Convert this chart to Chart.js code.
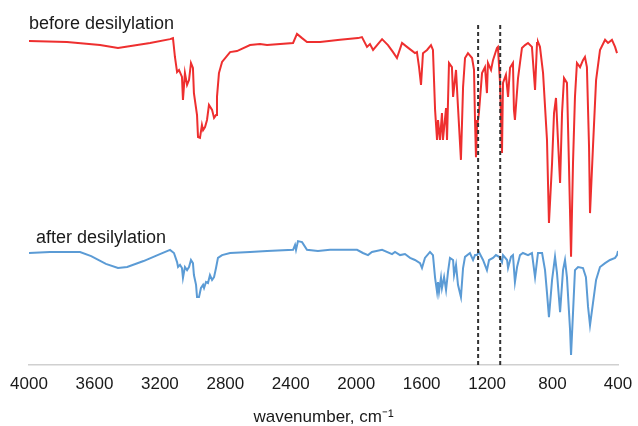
<!DOCTYPE html>
<html>
<head>
<meta charset="utf-8">
<script src="https://cdn.jsdelivr.net/npm/chart.js@4/dist/chart.umd.min.js"></script>
<style>
  html, body { margin: 0; padding: 0; background: #fff; }
  #wrap { width: 638px; height: 426px; }
</style>
</head>
<body>
<div id="wrap"><canvas id="irChart" width="638" height="426"></canvas></div>
<script>
// IR spectra, wavenumber (cm-1) vs. offset transmittance (a.u.)
const seriesLabels = ['before desilylation', 'after desilylation'];
const xTicks = [4000, 3600, 3200, 2800, 2400, 2000, 1600, 1200, 800, 400];
const markerLines = [1255, 1120];

const beforeWn = [4000, 3768, 3566, 3456, 3260, 3138, 3120, 3108, 3095, 3083, 3065, 3059, 3047, 3034, 3022, 3010, 2998, 2992,
    2973, 2967, 2955, 2943, 2936, 2924, 2912, 2900, 2881, 2869, 2857, 2851, 2839, 2820, 2771, 2729, 2649, 2588,
    2545, 2386, 2362, 2331, 2301, 2221, 2099, 1989, 1965, 1934, 1916, 1897, 1842, 1806, 1775, 1751, 1720, 1690,
    1641, 1629, 1616, 1604, 1592, 1567, 1543, 1531, 1518, 1506, 1500, 1488, 1476, 1470, 1451, 1445, 1433, 1415,
    1408, 1390, 1378, 1360, 1347, 1335, 1317, 1292, 1280, 1274, 1268, 1262, 1250, 1231, 1213, 1201, 1195, 1176,
    1164, 1140, 1134, 1121, 1109, 1103, 1085, 1072, 1060, 1042, 1036, 1030, 1011, 999, 987, 968, 950, 926, 907,
    895, 889, 877, 858, 834, 822, 803, 791, 779, 767, 754, 742, 730, 712, 700, 687, 675, 663, 651, 632, 614, 602,
    590, 577, 571, 553, 534, 510, 479, 461, 437, 418, 406];
const beforeT = [92.6, 92.3, 91.4, 90.6, 92.0, 93.1, 93.4, 88.0, 83.7, 84.3, 82.3, 75.7, 83.4, 80.0, 81.4, 86.3, 84.9, 77.7,
    71.4, 65.1, 64.9, 68.6, 67.1, 68.0, 70.0, 74.3, 72.9, 70.6, 71.4, 76.6, 83.4, 86.6, 89.4, 89.7, 91.4, 91.7,
    91.4, 92.0, 94.6, 93.4, 92.3, 92.3, 92.9, 93.4, 93.7, 90.9, 91.7, 90.0, 93.1, 91.4, 89.4, 87.7, 92.0, 90.9,
    89.1, 89.4, 85.1, 80.0, 89.1, 90.0, 91.4, 90.0, 72.9, 64.3, 70.0, 64.3, 72.0, 64.3, 73.4, 64.3, 86.3, 85.1,
    76.6, 84.3, 73.7, 58.6, 79.4, 87.7, 89.1, 87.7, 84.3, 70.0, 59.4, 68.0, 72.0, 83.4, 85.1, 77.7, 86.3, 84.3,
    87.1, 90.6, 90.9, 80.6, 60.6, 80.6, 82.9, 76.6, 84.9, 86.3, 72.9, 70.0, 82.0, 86.3, 90.6, 91.4, 92.0, 90.9, 78.6,
    92.0, 92.3, 90.9, 83.4, 64.3, 40.6, 57.7, 72.0, 76.3, 64.3, 52.0, 72.0, 82.0, 80.6, 57.7, 30.9, 57.7, 76.6, 86.3,
    85.1, 87.1, 88.0, 85.1, 62.3, 43.4, 62.3, 81.4, 90.0, 92.9, 92.0, 92.9, 90.9, 89.1];

const afterWn = [4000, 3872, 3688, 3620, 3530, 3456, 3400, 3300, 3200, 3138, 3114, 3095, 3089, 3077, 3065, 3059, 3047, 3034,
    3022, 3010, 2998, 2992, 2979, 2973, 2961, 2949, 2936, 2930, 2918, 2906, 2894, 2881, 2869, 2857, 2845, 2820,
    2771, 2649, 2545, 2386, 2374, 2368, 2356, 2331, 2301, 2234, 2160, 1995, 1959, 1928, 1904, 1842, 1781, 1763,
    1732, 1702, 1671, 1641, 1610, 1598, 1580, 1549, 1531, 1518, 1506, 1500, 1494, 1482, 1476, 1463, 1451, 1439,
    1427, 1408, 1402, 1390, 1378, 1360, 1347, 1335, 1305, 1286, 1274, 1262, 1250, 1225, 1201, 1188, 1164, 1146,
    1127, 1109, 1103, 1078, 1072, 1054, 1042, 1030, 1017, 999, 981, 950, 926, 907, 889, 864, 846, 834, 822, 803,
    785, 773, 754, 736, 724, 712, 693, 687, 675, 663, 644, 614, 596, 583, 571, 553, 534, 510, 479, 449, 418, 406, 400];
const afterT = [32.0, 32.3, 32.3, 31.1, 28.9, 27.7, 28.0, 29.7, 31.7, 32.9, 32.0, 29.4, 28.0, 28.6, 27.7, 24.9, 28.0, 27.1,
    28.0, 30.0, 29.1, 25.7, 22.9, 19.4, 19.4, 22.0, 22.9, 22.0, 23.7, 23.4, 25.7, 24.3, 25.1, 27.7, 30.6, 31.4,
    32.0, 32.3, 32.6, 32.9, 34.3, 32.9, 35.4, 35.1, 32.9, 32.6, 32.9, 32.9, 32.0, 31.4, 32.3, 32.9, 31.7, 32.3,
    31.4, 31.7, 30.6, 30.0, 29.1, 27.7, 30.6, 32.3, 31.4, 24.9, 20.9, 23.7, 20.9, 24.9, 22.0, 25.1, 21.4, 26.6,
    30.6, 30.0, 25.7, 28.6, 22.9, 19.4, 27.7, 30.9, 32.0, 30.0, 31.4, 31.4, 32.3, 30.0, 27.1, 30.0, 30.6, 31.4,
    30.9, 29.4, 31.4, 30.0, 27.7, 30.9, 31.4, 23.7, 28.0, 31.4, 32.0, 31.4, 32.0, 25.1, 32.0, 32.0, 27.1, 20.6, 13.7, 24.3,
    30.9, 26.3, 15.1, 27.1, 30.0, 25.1, 10.0, 2.9, 14.9, 27.1, 28.0, 27.7, 25.1, 16.6, 11.4, 17.7, 24.3, 28.0, 29.1, 30.0, 30.6, 31.4, 32.6];

// where the series names sit (wavenumber, value)
const labelAnchors = [[4000, 96.0], [3957, 34.9]];

function toPoints(xs, ys) {
    return xs.map(function(x, i) { return { x: x, y: ys[i] }; });
}

const FONT = '"Liberation Sans", Arial, sans-serif';

const datasets = [
    {
        label: seriesLabels[0],
        data: toPoints(beforeWn, beforeT),
        borderColor: '#ee2f2f',
        borderWidth: 2,
        pointRadius: 0,
        tension: 0,
        order: 1
    },
    {
        label: seriesLabels[1],
        data: toPoints(afterWn, afterT),
        borderColor: '#5b9bd5',
        borderWidth: 2,
        pointRadius: 0,
        tension: 0,
        order: 1
    }
];
markerLines.forEach(function(wn) {
    datasets.push({
        label: 'marker ' + wn,
        data: [{ x: wn, y: 0 }, { x: wn, y: 98 }],
        borderColor: '#333',
        borderWidth: 2,
        borderDash: [4, 3],
        pointRadius: 0,
        order: 0
    });
});

const seriesText = {
    id: 'seriesText',
    afterDatasetsDraw: function(chart) {
        const ctx = chart.ctx;
        const xs = chart.scales.x, ys = chart.scales.y;
        ctx.save();
        ctx.font = '18px ' + FONT;
        ctx.fillStyle = '#1a1a1a';
        ctx.textBaseline = 'alphabetic';
        ctx.textAlign = 'left';
        seriesLabels.forEach(function(t, i) {
            ctx.fillText(t, xs.getPixelForValue(labelAnchors[i][0]), ys.getPixelForValue(labelAnchors[i][1]));
        });
        ctx.restore();
    }
};

new Chart(document.getElementById('irChart').getContext('2d'), {
    type: 'line',
    data: { datasets: datasets },
    plugins: [seriesText],
    options: {
        responsive: false,
        animation: false,
        layout: { padding: { left: 29, right: 20, top: 15, bottom: 0 } },
        plugins: { legend: { display: false }, tooltip: { enabled: false } },
        scales: {
            x: {
                type: 'linear',
                reverse: true,
                min: 400,
                max: 4000,
                afterBuildTicks: function(scale) {
                    scale.ticks = xTicks.map(function(v) { return { value: v }; });
                },
                afterFit: function(scale) {
                    scale.height = 61;
                    scale.paddingLeft = 0;
                    scale.paddingRight = 0;
                },
                grid: { display: false, drawTicks: false },
                border: { display: true, color: '#d0d0d0', width: 1.5 },
                ticks: {
                    padding: 9,
                    color: '#1a1a1a',
                    font: { family: FONT, size: 17 },
                    maxRotation: 0,
                    autoSkip: false,
                    callback: function(v) { return String(v); }
                },
                title: {
                    display: true,
                    text: 'wavenumber, cm\u207B\u00B9',
                    color: '#1a1a1a',
                    font: { family: FONT, size: 17, lineHeight: 1 },
                    padding: { top: 4, bottom: 0 }
                }
            },
            y: {
                display: false,
                min: 0,
                max: 100
            }
        }
    }
});
</script>
</body>
</html>
